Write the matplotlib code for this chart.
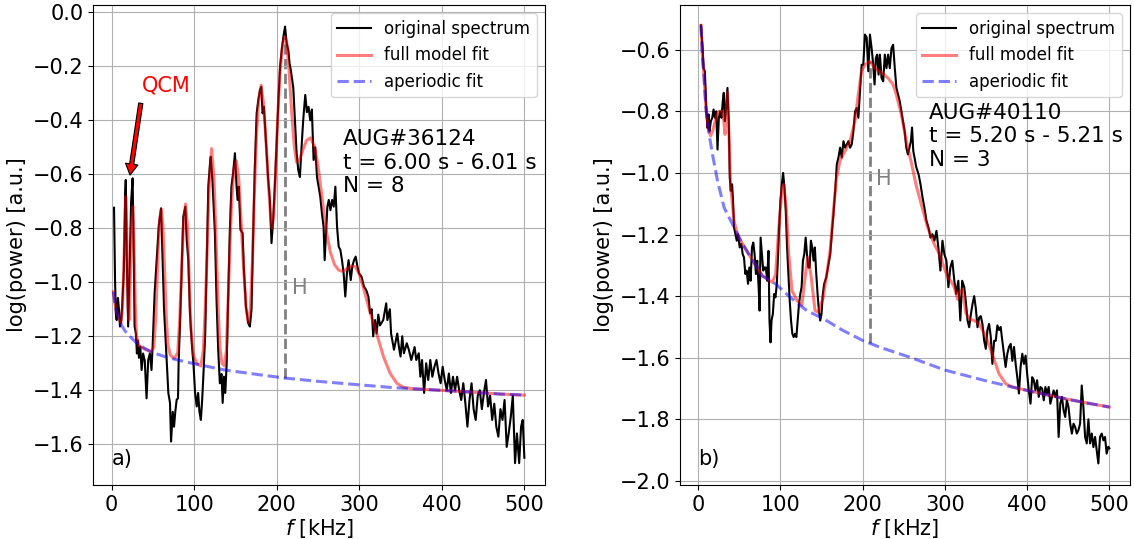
import numpy as np
import matplotlib
matplotlib.use('Agg')
import matplotlib.pyplot as plt

# ---------------- data (f in kHz, log power) ---------------- #
# panel a) AUG#36124
spec_a = [(2.8, -0.724), (4, -0.99), (5, -1.116), (6, -1.14), (7.5, -1.058), (8.7, -1.10), (10, -1.164),
          (11.6, -1.14), (13, -1.066), (14.7, -0.955), (16.3, -0.67), (17, -0.621), (18.3, -0.918),
          (19.9, -1.164), (21.9, -0.918), (23.5, -0.70), (25.3, -0.615), (26.5, -0.855), (27.7, -1.164),
          (29.3, -1.19), (30.5, -1.264), (31.7, -1.216), (33, -1.28), (34.6, -1.238), (36.2, -1.325),
          (38, -1.264), (40, -1.29), (42.2, -1.43), (44.2, -1.288), (46.2, -1.264), (48.2, -1.325),
          (49.5, -1.24), (52, -1.04), (57, -0.79), (59.8, -0.726), (61, -0.855), (63.4, -1.10),
          (65.8, -1.24), (66.6, -1.29), (68.6, -1.41), (70.6, -1.447), (71.9, -1.59), (73.9, -1.48),
          (75.5, -1.535), (77, -1.48), (78.7, -1.435), (80.3, -1.43), (81.1, -1.29), (82.7, -1.16),
          (86.7, -0.757), (89.2, -0.72), (90.8, -0.84), (92.8, -0.918), (94.8, -1.116), (97.3, -1.24),
          (99, -1.30), (101, -1.41), (103, -1.46), (104.7, -1.41), (106.3, -1.48), (108, -1.51),
          (109.6, -1.435), (111.2, -1.336), (113.3, -1.19), (115, -0.942), (117, -0.646), (119.3, -0.55),
          (120, -0.535), (122, -0.621), (125, -0.818), (127, -1.066), (129, -1.25), (131, -1.374),
          (133, -1.34), (134.4, -1.447), (136, -1.35), (137.6, -1.41), (139.3, -1.30), (141, -1.066),
          (143, -0.818), (145, -0.646), (147, -0.597), (149.3, -0.522), (151.3, -0.646), (152.5, -0.695),
          (154, -0.646), (156, -0.806), (158.6, -0.818), (160, -0.942), (162.6, -1.09), (165.4, -1.152),
          (167.4, -1.164), (169.4, -1.10), (171.4, -0.818), (173.4, -0.572), (175.6, -0.374),
          (177.6, -0.325), (179.6, -0.288), (181.2, -0.276), (182.8, -0.374), (184.4, -0.35),
          (186.8, -0.473), (189.6, -0.621), (191.6, -0.695), (193.6, -0.855), (195.6, -0.77),
          (197.6, -0.646), (200, -0.473), (202, -0.325), (204, -0.20), (206, -0.14), (208, -0.09),
          (210, -0.053), (212, -0.115), (214, -0.14), (215.5, -0.19), (217, -0.214), (220, -0.28),
          (222, -0.40), (224, -0.52), (226, -0.584), (228, -0.61), (230, -0.50), (232, -0.40),
          (234.5, -0.306), (236.5, -0.37), (238.5, -0.35), (240.5, -0.40), (242.5, -0.36), (244.6, -0.547),
          (246.6, -0.50), (248.7, -0.61), (250.7, -0.646), (252.7, -0.683), (254.7, -0.745),
          (256.7, -0.794), (258, -0.918), (259.6, -0.818), (261.3, -0.72), (263, -0.695), (265, -0.733),
          (267, -0.695), (269, -0.72), (271, -0.646), (273, -0.794), (275, -0.868), (277, -0.88),
          (279, -0.918), (281, -0.967), (283, -1.053), (285, -0.967), (287, -0.918), (289.6, -0.992),
          (291.6, -0.94), (293.6, -0.918), (295.6, -0.905), (297.6, -0.94), (299.6, -0.967),
          (302.8, -0.98), (305.6, -1.016), (308.5, -1.03), (311, -1.053), (313, -1.115), (315, -1.10),
          (316.8, -1.20), (319, -1.14), (321, -1.19), (323, -1.12), (325, -1.16), (329, -1.14),
          (332.6, -1.078), (334, -1.14), (337, -1.10), (338.5, -1.19), (342, -1.25), (346, -1.19),
          (348, -1.24), (350, -1.275), (352, -1.20), (354, -1.263), (357.5, -1.226), (360, -1.25),
          (363, -1.288), (367, -1.24), (369, -1.288), (372, -1.263), (374, -1.35), (376, -1.288),
          (378.5, -1.41), (381, -1.30), (383.5, -1.362), (386, -1.288), (388.5, -1.35), (391, -1.313),
          (393.5, -1.288), (396, -1.338), (398.5, -1.374), (401, -1.313), (403.5, -1.362), (406, -1.40),
          (408.5, -1.338), (411, -1.41), (413.5, -1.35), (416, -1.40), (418.5, -1.35), (421, -1.40),
          (423.5, -1.436), (426, -1.374), (428.5, -1.448), (431, -1.535), (433.5, -1.436), (436, -1.374),
          (438.5, -1.47), (441, -1.51), (443.5, -1.42), (446, -1.40), (448.5, -1.47), (451, -1.41),
          (453.5, -1.362), (456, -1.46), (458.5, -1.42), (461, -1.51), (463.5, -1.45), (466, -1.535),
          (468.5, -1.572), (471, -1.47), (473.5, -1.51), (476, -1.436), (478.6, -1.61), (481, -1.56),
          (483.6, -1.497), (486, -1.42), (488.7, -1.67), (491, -1.56), (493.7, -1.67), (496, -1.535),
          (498, -1.51), (500, -1.65)]

fit_a = [(2, -1.035), (5, -1.10), (8, -1.13), (11, -1.15), (13, -1.10), (15, -0.90), (17, -0.683),
         (18.5, -0.85), (20, -1.10), (21, -1.14), (22.5, -1.00), (24, -0.78), (25.5, -0.72), (27, -0.85),
         (28.5, -1.08), (30, -1.20), (33, -1.235), (40, -1.248), (48, -1.258), (51, -1.24), (53.5, -1.12),
         (56, -0.90), (58, -0.77), (60, -0.73), (62, -0.79), (64, -0.95), (66, -1.12), (68, -1.23),
         (71, -1.27), (76, -1.282), (80, -1.26), (82.5, -1.13), (85, -0.93), (87, -0.78), (89.5, -0.71),
         (92, -0.80), (94, -1.00), (96, -1.17), (99, -1.27), (103, -1.30), (108, -1.31), (111, -1.25),
         (113, -1.12), (115.5, -0.90), (118, -0.65), (121, -0.505), (124, -0.62), (126.5, -0.85),
         (129, -1.10), (131, -1.24), (133.5, -1.30), (136.5, -1.31), (139, -1.25), (142, -0.98),
         (145, -0.72), (148, -0.58), (151, -0.55), (154, -0.62), (157, -0.79), (160, -0.96), (163, -1.10),
         (165.5, -1.15), (168, -1.10), (170.5, -0.92), (173, -0.66), (175.5, -0.45), (178, -0.33),
         (181, -0.27), (184, -0.34), (187, -0.48), (190, -0.64), (192.5, -0.76), (194.5, -0.80),
         (196.5, -0.74), (198.5, -0.60), (201, -0.40), (204, -0.22), (207, -0.12), (209.5, -0.09),
         (212, -0.11), (215, -0.22), (218, -0.37), (221, -0.49), (224, -0.555), (227, -0.55),
         (231, -0.515), (236, -0.475), (241, -0.465), (246, -0.50), (250, -0.57), (255, -0.69),
         (260, -0.81), (265, -0.89), (270, -0.935), (275, -0.955), (280, -0.96), (285, -0.95),
         (290, -0.94), (295, -0.942), (300, -0.97), (305, -1.02), (309, -1.066), (313, -1.11),
         (321, -1.19), (329.3, -1.276), (337.3, -1.337), (345.4, -1.374), (353.5, -1.389),
         (365.6, -1.395), (374, -1.396), (420, -1.404), (470, -1.414), (500, -1.418)]

aper_a = [(2, -1.035), (4, -1.08), (6, -1.11), (9, -1.135), (12, -1.16), (16, -1.18), (22, -1.20),
          (30, -1.225), (40, -1.245), (51, -1.262), (69, -1.28), (97, -1.30), (137, -1.325), (180, -1.343),
          (210, -1.355), (250, -1.367), (300, -1.38), (340, -1.39), (374, -1.396), (420, -1.404),
          (470, -1.414), (500, -1.418)]

# panel b) AUG#40110
spec_b = [(3.3, -0.521), (5.3, -0.595), (6.5, -0.66), (8, -0.67), (9, -0.735), (10, -0.81), (11.3, -0.854),
          (12.5, -0.81), (13.7, -0.864), (15.3, -0.832), (17, -0.821), (18.6, -0.794), (20.2, -0.821),
          (21.8, -0.80), (23.4, -0.924), (25, -0.821), (26.6, -0.80), (28.2, -0.821), (29.8, -0.767),
          (31, -0.74), (32.3, -0.832), (33.9, -0.789), (35.5, -0.724), (37.1, -0.832), (38.3, -1.015),
          (39.5, -1.058), (41.1, -1.037), (42.3, -1.09), (43.5, -1.177), (45.2, -1.199), (46.8, -1.22),
          (48.4, -1.199), (50.4, -1.242), (52.4, -1.23), (54, -1.264), (55.6, -1.274), (57.2, -1.328),
          (58.8, -1.317), (60.5, -1.36), (62.1, -1.307), (63.7, -1.35), (65.3, -1.242), (66.9, -1.226),
          (68.5, -1.264), (70.1, -1.328), (71.7, -1.285), (73.4, -1.37), (74.6, -1.447), (75.8, -1.21),
          (77.4, -1.264), (79, -1.317), (80.6, -1.307), (82.2, -1.307), (83.8, -1.35), (85.4, -1.253),
          (86.6, -1.479), (87.9, -1.55), (89.1, -1.479), (90.7, -1.458), (92.3, -1.393), (93.9, -1.404),
          (95.5, -1.36), (97.1, -1.264), (98.3, -1.177), (99.9, -1.09), (101.6, -1.037), (103.2, -1.00),
          (104.8, -1.048), (106.4, -1.123), (108, -1.242), (109.6, -1.328), (111.2, -1.414),
          (112.8, -1.479), (114.4, -1.522), (116, -1.533), (117.6, -1.522), (119.3, -1.533),
          (120.9, -1.479), (122.5, -1.425), (124.1, -1.393), (125.7, -1.37), (127.3, -1.285),
          (128.9, -1.264), (130.6, -1.21), (132.2, -1.264), (133.8, -1.307), (135.4, -1.307), (137, -1.22),
          (138.6, -1.242), (140.2, -1.285), (141.8, -1.242), (143.5, -1.328), (145.1, -1.393),
          (146.7, -1.447), (148.3, -1.479), (149.9, -1.458), (151.5, -1.393), (153.1, -1.36),
          (155.6, -1.34), (158.4, -1.296), (160.5, -1.264), (162.4, -1.198), (164.4, -1.134),
          (166.5, -1.059), (168.5, -0.972), (170.5, -0.95), (172.5, -0.918), (174.5, -0.95),
          (176.6, -0.897), (178.6, -0.918), (180.6, -0.908), (182.6, -0.897), (184.6, -0.918),
          (186.6, -0.908), (188.7, -0.864), (190.7, -0.80), (192.7, -0.789), (194.7, -0.821),
          (196.7, -0.735), (198.7, -0.649), (200.7, -0.649), (202.7, -0.551), (204.8, -0.56),
          (206.8, -0.67), (208.8, -0.551), (210.8, -0.595), (212.8, -0.649), (214.4, -0.713), (216, -0.627),
          (217.6, -0.616), (219.3, -0.681), (220.9, -0.616), (222.9, -0.692), (224.9, -0.703),
          (226.9, -0.616), (228.9, -0.66), (230.9, -0.616), (232.9, -0.66), (235, -0.595), (237, -0.584),
          (239, -0.66), (241, -0.724), (243, -0.745), (245, -0.767), (247, -0.80), (249, -0.832),
          (251, -0.864), (253, -0.918), (255, -0.94), (258.6, -0.897), (260, -0.853), (261.5, -0.929),
          (263, -0.95), (265, -0.98), (268, -1.005), (270.3, -1.037), (272.8, -1.08), (275, -1.112),
          (277.6, -1.156), (280, -1.177), (282.4, -1.21), (284.8, -1.199), (287.2, -1.22), (289.7, -1.188),
          (292, -1.242), (294.5, -1.317), (297, -1.22), (299.3, -1.264), (301.8, -1.285), (304.2, -1.371),
          (306.6, -1.307), (309, -1.285), (311.4, -1.35), (313.8, -1.393), (316.3, -1.35), (318.7, -1.479),
          (321, -1.35), (323.5, -1.371), (325.5, -1.42), (327.5, -1.479), (329.5, -1.501), (331.5, -1.46),
          (333.6, -1.425), (335.6, -1.40), (337.6, -1.44), (339.6, -1.501), (341.6, -1.47), (343.6, -1.465),
          (345.6, -1.49), (347.7, -1.544), (349.7, -1.571), (351.7, -1.51), (353.7, -1.49), (355.7, -1.53),
          (357.7, -1.62), (359.8, -1.545), (361.8, -1.545), (363.8, -1.495), (365.8, -1.51), (367.8, -1.50),
          (369.8, -1.545), (373.8, -1.63), (375.9, -1.587), (377.9, -1.565), (380, -1.555), (382, -1.61),
          (384, -1.565), (386, -1.62), (388, -1.663), (390, -1.716), (392, -1.63), (394.1, -1.587),
          (396.1, -1.62), (398.1, -1.593), (400, -1.652), (402, -1.706), (404.1, -1.749), (406.1, -1.663),
          (408.1, -1.673), (410.1, -1.706), (412.1, -1.673), (414.1, -1.727), (416.1, -1.695),
          (418.2, -1.70), (420.2, -1.738), (422.2, -1.695), (424.2, -1.717), (426.2, -1.695),
          (428.2, -1.749), (430.2, -1.727), (432.2, -1.706), (434.2, -1.727), (436.3, -1.706),
          (438.3, -1.857), (440.3, -1.749), (442.3, -1.727), (444.3, -1.77), (446.3, -1.792),
          (448.3, -1.738), (450.3, -1.76), (452.4, -1.814), (454.4, -1.846), (456.4, -1.814),
          (458.4, -1.825), (460.4, -1.846), (462.4, -1.835), (464.4, -1.814), (466.4, -1.69),
          (468.4, -1.76), (470.5, -1.857), (472.5, -1.878), (474.5, -1.80), (476.5, -1.878),
          (478.6, -1.846), (480.6, -1.89), (482.6, -1.857), (484.6, -1.90), (486.6, -1.943),
          (488.6, -1.857), (490.7, -1.846), (492.7, -1.868), (494.7, -1.857), (496.7, -1.911),
          (498.7, -1.889), (500, -1.894)]

fit_b = [(3.3, -0.521), (5, -0.62), (6.5, -0.67), (9.3, -0.789), (12, -0.855), (15, -0.88), (18, -0.86),
         (22, -0.815), (25, -0.80), (29, -0.80), (31, -0.83), (32.5, -0.875), (34, -0.80), (35.5, -0.74),
         (37, -0.85), (39.5, -1.048), (43.5, -1.155), (47.6, -1.199), (51.6, -1.22), (63.7, -1.274),
         (77.8, -1.334), (90, -1.355), (94, -1.33), (98, -1.177), (102, -1.048), (104, -1.037),
         (107, -1.112), (110, -1.264), (114, -1.382), (120, -1.414), (126, -1.43), (129, -1.36),
         (132.9, -1.274), (137, -1.33), (142, -1.447), (146, -1.452), (152, -1.404), (156.3, -1.328),
         (160.4, -1.25), (164.4, -1.123), (168, -1.02), (172.4, -0.96), (178.5, -0.929), (184.6, -0.897),
         (190.6, -0.832), (194.6, -0.746), (198.6, -0.67), (202.6, -0.649), (208.7, -0.638),
         (214.7, -0.66), (222.8, -0.675), (230.8, -0.692), (236.9, -0.713), (240.9, -0.746), (247, -0.81),
         (253, -0.897), (259, -0.965), (265, -1.04), (271, -1.10), (279, -1.177), (287, -1.231),
         (293.4, -1.264), (299.4, -1.31), (303.5, -1.34), (307, -1.35), (311.4, -1.371), (315.4, -1.41),
         (318, -1.385), (321.5, -1.378), (325.5, -1.455), (330, -1.475), (335.6, -1.479), (341.6, -1.49),
         (349.7, -1.53), (357.8, -1.59), (365.8, -1.652), (373.8, -1.684), (381.9, -1.695), (390, -1.70),
         (420, -1.718), (450, -1.735), (475, -1.748), (500, -1.76)]

aper_b = [(3.3, -0.521), (5, -0.62), (6.5, -0.67), (9.3, -0.789), (13.2, -0.875), (17.3, -0.94),
          (23.4, -1.026), (31.5, -1.113), (41.5, -1.166), (51.6, -1.22), (63.7, -1.274), (77.8, -1.334),
          (93.9, -1.36), (112, -1.404), (132, -1.447), (154, -1.476), (175, -1.51), (200, -1.544),
          (221, -1.566), (257, -1.598), (300, -1.64), (350, -1.675), (390, -1.70), (420, -1.718),
          (450, -1.735), (475, -1.748), (500, -1.76)]

# gaussian peak marked with "H": (centre, aperiodic level, peak level)
h_a = (210.5, -1.355, -0.09)
h_b = (208.7, -1.553, -0.638)

info_a = 'AUG#36124\nt = 6.00 s - 6.01 s\nN = 8'
info_b = 'AUG#40110\nt = 5.20 s - 5.21 s\nN = 3'

# ---------------- plot ---------------- #
plt.rcParams['font.size'] = 15

fig = plt.figure(figsize=(11.34, 5.39), dpi=100)
ax_a = fig.add_axes([0.0823, 0.1002, 0.3983, 0.8905])
ax_b = fig.add_axes([0.5996, 0.1002, 0.3968, 0.8905])


def draw_panel(ax, spec, fit, aper, h, info, info_xy, tag, tag_xy, ylim):
    f, p = np.array(spec).T
    ff, pf = np.array(fit).T
    fa, pa = np.array(aper).T
    ax.plot([h[0], h[0]], [h[1], h[2]], color='gray', ls='--', lw=2, zorder=1)
    ax.plot(f, p, color='k', lw=1.5, label='original spectrum', zorder=2)
    ax.plot(ff, pf, color='r', lw=2.2, alpha=0.5, label='full model fit', zorder=3)
    ax.plot(fa, pa, color='b', lw=2.2, ls='--', alpha=0.5, label='aperiodic fit', zorder=4)
    ax.text(h[0] + 17, -1.02, 'H', color='gray', va='center', ha='center')
    ax.text(info_xy[0], info_xy[1], info, va='top', ha='left', linespacing=1.2, fontsize=15.5)
    ax.text(tag_xy[0], tag_xy[1], tag, va='bottom', ha='left')
    ax.set_xlim(-22.3, 525)
    ax.set_ylim(*ylim)
    ax.set_xticks([0, 100, 200, 300, 400, 500])
    ax.grid(True)
    ax.set_xlabel('$f$ [kHz]', labelpad=2)
    ax.set_ylabel('log(power) [a.u.]')
    ax.legend(loc='upper right', fontsize=12)


draw_panel(ax_a, spec_a, fit_a, aper_a, h_a, info_a, (280.5, -0.434), 'a)', (0, -1.69), (-1.751, 0.027))
draw_panel(ax_b, spec_b, fit_b, aper_b, h_b, info_b, (281, -0.774), 'b)', (0, -1.96), (-2.013, -0.455))

# QCM label with its arrow
ax_a.text(65.6, -0.272, 'QCM', color='red', ha='center', va='center')
ax_a.annotate('', xy=(22.2, -0.603), xytext=(35.2, -0.337),
              arrowprops=dict(facecolor='red', edgecolor='black', lw=0.8, width=3, headwidth=9,
                              headlength=8, shrink=0.0))

fig.savefig('out.png', dpi=100)
